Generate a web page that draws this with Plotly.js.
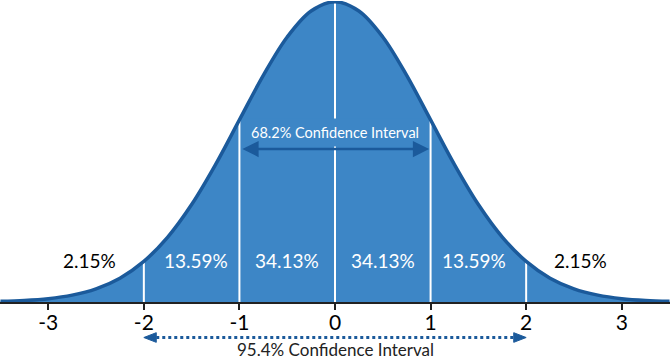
<!DOCTYPE html>
<html>
<head>
<meta charset="utf-8">
<script src="https://cdn.plot.ly/plotly-3.0.1.min.js"></script>
<style>html,body{margin:0;padding:0;background:#fff;}#chart{width:670px;height:360px;}</style>
</head>
<body>
<div id="chart"></div>
<script>
// Curve (density heights)
const curveX = [-3.5,-3.25,-3,-2.75,-2.5,-2.25,-2,-1.75,-1.5,-1.25,-1,-0.75,-0.5,-0.25,0,0.25,0.5,0.75,1,1.25,1.5,1.75,2,2.25,2.5,2.75,3,3.25,3.5];
const curveY = [0.0009,0.0020,0.0044,0.0091,0.0175,0.0317,0.0540,0.0863,0.1295,0.1826,0.2420,0.3011,0.3521,0.3867,0.3989,0.3867,0.3521,0.3011,0.2420,0.1826,0.1295,0.0863,0.0540,0.0317,0.0175,0.0091,0.0044,0.0020,0.0009];
// Divider lines
const dividerX = [-2,-1,0,1,2];
const dividerY = [0.0540,0.2420,0.3989,0.2420,0.0540];
// Band labels
const bandX = [-2.57,-1.45,-0.5,0.5,1.45,2.57];
const bandText = ['2.15%','13.59%','34.13%','34.13%','13.59%','2.15%'];
const bandInside = [false,true,true,true,true,false];
const bandLabelY = 0.055;
// Ticks
const tickVals = [-3,-2,-1,0,1,2,3];
const tickText = ['-3','-2','-1','0','1','2','3'];
// Intervals
const inner = {from:-1, to:1, label:'68.2% Confidence Interval'};
const outer = {from:-2, to:2, label:'95.4% Confidence Interval'};

const FILL = '#3d86c6';
const EDGE = '#1b5a9b';
const FONT = 'Lato, "Open Sans", sans-serif';

const traces = [];
traces.push({x: curveX, y: curveY, type:'scatter', mode:'lines', fill:'tozeroy',
  fillcolor: FILL, line:{color:FILL, width:0, shape:'spline', smoothing:1}, hoverinfo:'skip'});
dividerX.forEach((dx,i)=>{
  traces.push({x:[dx,dx], y:[0,dividerY[i]], type:'scatter', mode:'lines',
    line:{color:'#ffffff', width:2}, hoverinfo:'skip'});
});
traces.push({x: curveX, y: curveY, type:'scatter', mode:'lines',
  line:{color:EDGE, width:3.5, shape:'spline', smoothing:1}, hoverinfo:'skip'});

const annotations = [];
bandX.forEach((bx,i)=>{
  annotations.push({x:bx, y:bandLabelY, xref:'x', yref:'y', text:bandText[i], showarrow:false,
    font:{family:FONT, size:19, color: bandInside[i] ? '#ffffff' : '#000000'}});
});
// inner interval text + arrow
annotations.push({x:(inner.from+inner.to)/2, y:0.2259, xref:'x', yref:'y', text:inner.label, showarrow:false,
  font:{family:FONT, size:14.5, color:'#ffffff'}, bgcolor:FILL, borderpad:5});
annotations.push({x:inner.to-0.015, y:0.2033, xref:'x', yref:'y', axref:'x', ayref:'y',
  ax:inner.from+0.015, ay:0.2033, text:'', showarrow:true, arrowhead:2, arrowside:'end+start',
  arrowwidth:2.5, arrowsize:1.3, arrowcolor:EDGE});
// outer interval text
annotations.push({x:(outer.from+outer.to)/2, y:-0.158, xref:'x', yref:'paper', text:outer.label, showarrow:false,
  xanchor:'center', yanchor:'middle', font:{family:FONT, size:17, color:'#222222'}});

// dotted outer arrow (line + two triangular heads)
const aY = -0.118, headL = 0.13, headH = 0.016;
const shapes = [
  {type:'line', xref:'x', yref:'paper', x0:outer.from+headL, x1:outer.to-headL, y0:aY, y1:aY,
    line:{color:EDGE, width:3, dash:'dot'}},
  {type:'path', xref:'x', yref:'paper',
    path:`M ${outer.from},${aY} L ${outer.from+headL},${aY+headH} L ${outer.from+headL},${aY-headH} Z`,
    fillcolor:EDGE, line:{color:EDGE, width:1}},
  {type:'path', xref:'x', yref:'paper',
    path:`M ${outer.to},${aY} L ${outer.to-headL},${aY+headH} L ${outer.to-headL},${aY-headH} Z`,
    fillcolor:EDGE, line:{color:EDGE, width:1}}
];

const layout = {
  width:670, height:360,
  margin:{l:0, r:0, t:1, b:58},
  paper_bgcolor:'#ffffff', plot_bgcolor:'#ffffff',
  showlegend:false,
  xaxis:{range:[-3.505,3.505], tickvals:tickVals, ticktext:tickText, showgrid:false, zeroline:false,
    showline:true, linecolor:'#222222', linewidth:2, ticks:'outside', ticklen:6, tickwidth:2, tickcolor:'#222222',
    ticklabelstandoff:-5,
    tickfont:{family:FONT, size:21, color:'#000000'}, fixedrange:true},
  yaxis:{range:[0,0.4], visible:false, showgrid:false, zeroline:false, fixedrange:true},
  annotations: annotations,
  shapes: shapes
};
Plotly.newPlot('chart', traces, layout, {staticPlot:true, displayModeBar:false});
</script>
</body>
</html>
